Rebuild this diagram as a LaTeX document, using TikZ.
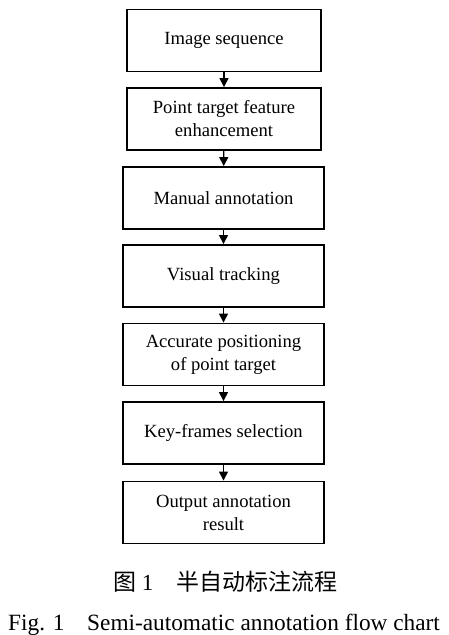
\documentclass[tikz,border=0pt]{standalone}
\usepackage{fontspec}
\setmainfont{Liberation Serif}
\newfontfamily\cjk{Noto Sans CJK SC}
\usetikzlibrary{arrows.meta}
\begin{document}
\begin{tikzpicture}[x=1pt,y=-1pt,
  stepbox/.style={draw,line width=1.9pt,inner sep=0pt,align=center,
    font=\fontsize{18.6}{23}\selectfont},
  wide/.style={minimum width=201pt,minimum height=62pt},
  narrow/.style={minimum width=194pt,minimum height=62pt},
  flow/.style={line width=1.4pt,-{Triangle[length=9pt,width=9pt]}},
  captext/.style={inner sep=0pt,anchor=base west}]
\useasboundingbox (0,0) rectangle (448,635);
\node[stepbox,narrow] (b1) at (224,40.5) {Image sequence};
\node[stepbox,narrow] (b2) at (224,119) {Point target feature\\enhancement};
\node[stepbox,wide] (b3) at (223.5,198) {Manual annotation};
\node[stepbox,wide] (b4) at (223.5,276) {Visual tracking};
\node[stepbox,wide] (b5) at (223.5,354.5) {Accurate positioning\\of point target};
\node[stepbox,wide] (b6) at (223.5,433) {Key-frames selection};
\node[stepbox,wide] (b7) at (223.5,512.5) {Output annotation\\result};
\draw[flow] (b1) -- (b2);
\draw[flow] (b2) -- (b3);
\draw[flow] (b3) -- (b4);
\draw[flow] (b4) -- (b5);
\draw[flow] (b5) -- (b6);
\draw[flow] (b6) -- (b7);
\node[captext,font=\fontsize{23}{26}\selectfont] (c1) at (113,590) {{\cjk 图} 1};
\node[captext,font=\fontsize{23}{26}\selectfont\cjk] (c2) at (176,590) {半自动标注流程};
\node[captext,font=\fontsize{23.3}{26}\selectfont] (c3) at (8,630) {Fig. 1};
\node[captext,font=\fontsize{23.3}{26}\selectfont] (c4) at (87,630) {Semi-automatic annotation flow chart};
\end{tikzpicture}
\end{document}
